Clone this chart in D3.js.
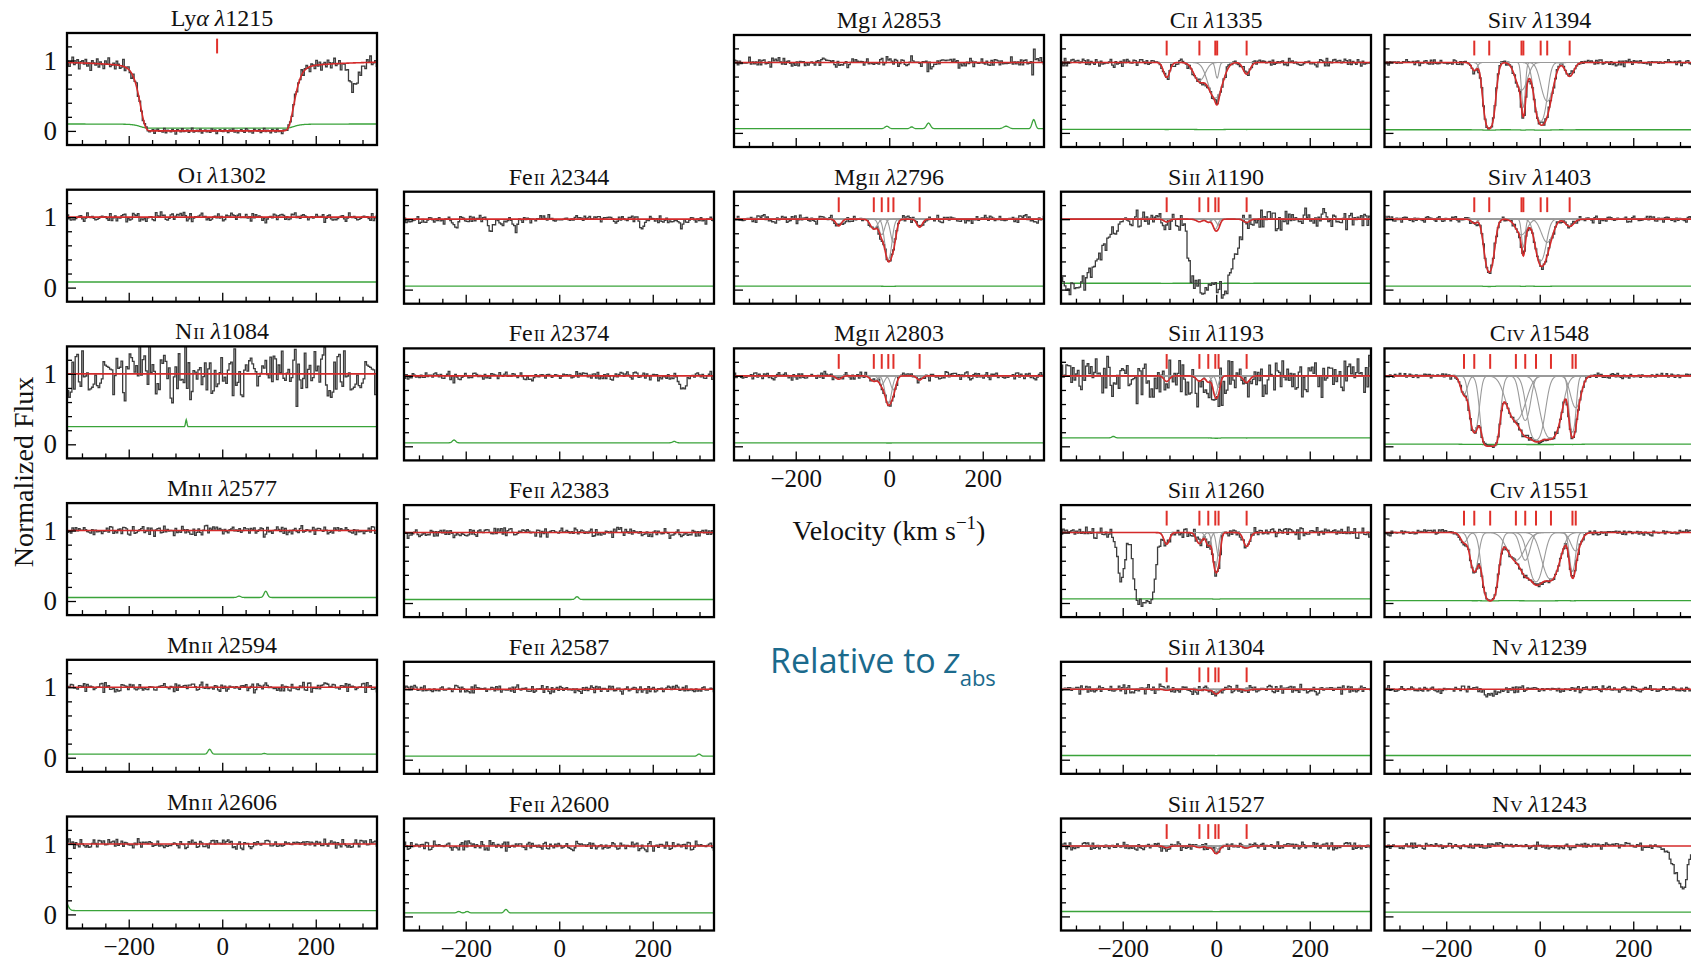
<!DOCTYPE html>
<html>
<head>
<meta charset="utf-8">
<script src="https://cdn.jsdelivr.net/npm/d3@7"></script>
<style>
  body { margin: 0; background: #fff; }
  svg text { font-family: "Liberation Serif", serif; }
</style>
</head>
<body>
<svg id="chart"></svg>
<script>
// velocity window (km/s) and spectral pixel size
var vRange = [-332, 331];
var pixKms = 3.5;
var fluxRange = [-0.2, 1.39];

// typed flux residuals (in units of sigma), reused along each spectrum
var residual = [
  0.42,-1.13,0.27,1.61,-0.58,-0.09,0.88,-1.72,0.35,0.64,
  -0.31,1.05,-0.84,0.12,-2.05,0.77,0.19,-0.46,1.34,-0.97,
  0.58,-0.22,-1.38,0.93,0.05,1.87,-0.66,-0.14,0.49,-1.21,
  1.12,0.31,-0.79,-0.35,2.12,-1.04,0.24,0.71,-0.53,-1.56,
  0.86,-0.08,1.43,-0.91,0.37,-0.27,-1.19,0.62,1.01,-0.44,
  -0.71,0.15,0.97,-1.66,0.53,1.28,-0.39,0.08,-0.85,1.74,
  -1.29,0.46,0.21,-0.62,1.16,-0.18,-2.31,0.83,0.34,-0.74,
  1.52,-0.51,0.03,0.69,-1.08,0.28,1.95,-0.93,-0.24,0.57,
  -0.43,1.22,-1.47,0.11,0.79,-0.67,0.41,-1.02,1.38,-0.12,
  0.66,-1.83,0.26,0.95,-0.33,-0.57,1.09,0.18,-1.25,0.72,
  -0.06,1.47,-0.88,0.39,-1.41,0.23,0.84,-0.29,-0.98,1.63,
  0.47,-0.69,0.13,-1.54,1.19,0.32,-0.21,0.91,-1.11,-0.37,
  1.78,-0.55,0.61,-0.15,-1.33,0.99,0.29,-0.81,1.26,-0.48,
  0.07,-1.92,0.74,0.44,-0.61,1.07,-0.26,-1.14,0.52,1.31,
  -0.76,0.16,-0.41,1.58,-1.07,0.36,0.89,-0.19,-1.49,0.63,
  0.22,-0.95,1.41,-0.34,0.78,-1.62,0.09,0.55,-0.73,1.15
];

// transitions: [key, element, ionisation stage, wavelength]
var lineList = [
  ["lya","Ly","α",1215], ["oI1302","O","I",1302], ["nII1084","N","II",1084],
  ["mnII2577","Mn","II",2577], ["mnII2594","Mn","II",2594], ["mnII2606","Mn","II",2606],
  ["feII2344","Fe","II",2344], ["feII2374","Fe","II",2374], ["feII2383","Fe","II",2383],
  ["feII2587","Fe","II",2587], ["feII2600","Fe","II",2600],
  ["mgI2853","Mg","I",2853], ["mgII2796","Mg","II",2796], ["mgII2803","Mg","II",2803],
  ["cII1335","C","II",1335], ["siII1190","Si","II",1190], ["siII1193","Si","II",1193],
  ["siII1260","Si","II",1260], ["siII1304","Si","II",1304], ["siII1527","Si","II",1527],
  ["siIV1394","Si","IV",1394], ["siIV1403","Si","IV",1403], ["cIV1548","C","IV",1548],
  ["cIV1551","C","IV",1551], ["nV1239","N","V",1239], ["nV1243","N","V",1243]
];

// fitted components: [velocity, optical depth at centre, b (km/s)]
var comps = {
  lya:      [[-11, 4740, 56]],
  mgII2796: [[-108,0.1,8],[-33,0.15,10],[-16,0.25,8],[-2,0.85,9],[9,0.4,8],[65,0.12,8]],
  mgII2803: [[-108,0.05,8],[-33,0.08,10],[-16,0.13,8],[-2,0.5,9],[9,0.22,8],[65,0.06,8]],
  cII1335:  [[-106,0.24,9],[-36,0.3,16],[-2,0.7,19],[2,0.25,5],[65,0.18,10]],
  siII1190: [[-106,0.04,8],[-36,0.037,9],[-17,0.044,7],[-2,0.154,7],[5,0.088,6],[65,0.048,9]],
  siII1193: [[-106,0.083,8],[-36,0.078,9],[-17,0.092,7],[-2,0.32,7],[5,0.18,6],[65,0.1,9]],
  siII1260: [[-106,0.18,8],[-36,0.17,9],[-17,0.2,7],[-2,0.7,7],[5,0.4,6],[65,0.22,9]],
  siII1304: [[-106,0.015,8],[-36,0.014,9],[-17,0.016,7],[-2,0.057,7],[5,0.032,6],[65,0.018,9]],
  siII1527: [[-106,0.025,8],[-36,0.023,9],[-17,0.027,7],[-2,0.096,7],[5,0.055,6],[65,0.03,9]],
  siIV1394: [[-140,0.12,8],[-108,2.8,12],[-39,0.5,16],[-35,1.0,5],[2,1.8,14],[16,0.8,16],[64,0.22,12]],
  siIV1403: [[-140,0.06,8],[-108,1.4,12],[-39,0.25,16],[-35,0.5,5],[2,0.9,14],[16,0.4,16],[64,0.11,12]],
  cIV1548:  [[-162,0.3,10],[-140,1.6,11],[-106,7,15],[-51,1.0,24],[-31,1.0,13],[-8,2.4,18],[24,2.2,22],[70,1.6,8],[77,0.6,14]],
  cIV1551:  [[-162,0.15,10],[-140,0.8,11],[-106,3.5,15],[-51,0.5,24],[-31,0.5,13],[-8,1.2,18],[24,1.1,22],[70,0.8,8],[77,0.3,14]]
};
var lyaDamping = 3000;

// unrelated absorption seen only in the data: [velocity, tau, b]
var blends = {
  lya:      [[282,0.42,14]],
  feII2344: [[-220,0.2,6],[-146,0.22,6],[-120,0.08,8],[-93,0.14,6],[176,0.12,6],[259,0.1,5]],
  feII2374: [[-62,0.05,12],[265,0.2,10]],
  siII1190: [[-340,4,70],[-30,4,22],[10,4,25]],
  siII1193: [[-150,0.1,60],[-30,0.12,40],[200,0.06,60]],
  siII1260: [[-203,1.1,9],[-153,8,16]],
  nV1239:   [[-105,0.08,15]],
  nV1243:   [[300,0.6,20],[307,0.4,8]]
};

// error spectrum level, and its floor where the flux goes to zero
var errBase = {
  lya:0.1, oI1302:0.08, nII1084:0.25, mnII2577:0.05, mnII2594:0.05, mnII2606:0.055,
  feII2344:0.05, feII2374:0.05, feII2383:0.05, feII2587:0.05, feII2600:0.05,
  mgI2853:0.06, mgII2796:0.05, mgII2803:0.05, cII1335:0.05,
  siII1190:0.09, siII1193:0.12, siII1260:0.06, siII1304:0.06, siII1527:0.07,
  siIV1394:0.045, siIV1403:0.05, cIV1548:0.03, cIV1551:0.035, nV1239:0.06, nV1243:0.06
};
var errFloor = { lya: 0.4 };
// sky residual bumps in the error spectrum: [velocity, height, width]
var errBumps = {
  nII1084:  [[-77,0.1,2]],
  mnII2577: [[36,0.02,5],[93,0.09,5]],
  mnII2594: [[-27,0.07,5],[90,0.01,5]],
  mnII2606: [[-336,0.13,8]],
  feII2374: [[-225,0.04,5],[246,0.02,5]],
  feII2383: [[38,0.04,5]],
  feII2587: [[299,0.03,5]],
  feII2600: [[-215,0.02,5],[-197,0.02,5],[-114,0.05,5]],
  mgI2853:  [[-5,0.035,6],[48,0.025,5],[84,0.08,6],[250,0.035,8],[309,0.13,5]],
  siII1193: [[-220,0.02,5]]
};
// scatter of the data around the model
var noiseRms = {
  lya:0.05, oI1302:0.035, nII1084:0.2, mnII2577:0.035, mnII2594:0.035, mnII2606:0.035,
  feII2344:0.03, feII2374:0.03, feII2383:0.035, feII2587:0.03, feII2600:0.035,
  mgI2853:0.035, mgII2796:0.03, mgII2803:0.03, cII1335:0.03,
  siII1190:0.08, siII1193:0.15, siII1260:0.04, siII1304:0.035, siII1527:0.03,
  siIV1394:0.025, siIV1403:0.025, cIV1548:0.02, cIV1551:0.02, nV1239:0.025, nV1243:0.025
};

// where each transition sits in the grid: [key, column, row]
var grid = [
  ["lya",0,0],["oI1302",0,1],["nII1084",0,2],["mnII2577",0,3],["mnII2594",0,4],["mnII2606",0,5],
  ["feII2344",1,1],["feII2374",1,2],["feII2383",1,3],["feII2587",1,4],["feII2600",1,5],
  ["mgI2853",2,0],["mgII2796",2,1],["mgII2803",2,2],
  ["cII1335",3,0],["siII1190",3,1],["siII1193",3,2],["siII1260",3,3],["siII1304",3,4],["siII1527",3,5],
  ["siIV1394",4,0],["siIV1403",4,1],["cIV1548",4,2],["cIV1551",4,3],["nV1239",4,4],["nV1243",4,5]
];
var strides = [1,3,7,9,11,13,17,19,21,23,27,29,31,33,37,39,41,43,47,49,51,53,57,59,61,63];

var svgWidth = 1691, svgHeight = 963;
var colLeft = [67, 404, 734, 1061, 1384.5];
var panelW = 310, panelH = 112, rowStep = 156.7;

var svg = d3.select("#chart").attr("width", svgWidth).attr("height", svgHeight);

var x = d3.scaleLinear().domain(vRange).range([0, panelW]);
var y = d3.scaleLinear().domain(fluxRange).range([panelH, 0]);

function tauAt(v, list) {
  var t = 0;
  (list || []).forEach(function(c) {
    var d = (v - c[0]) / c[2];
    t += c[1] * Math.exp(-d * d);
  });
  return t;
}
function modelAt(key, v) {
  var t = tauAt(v, comps[key]);
  if (key == "lya") {
    var d = v - comps.lya[0][0];
    t += lyaDamping / (d * d + 100);
  }
  return Math.exp(-t);
}
function errAt(key, v) {
  var fl = errFloor[key] != null ? errFloor[key] : 0.85;
  var e = errBase[key] * (fl + (1 - fl) * modelAt(key, v));
  (errBumps[key] || []).forEach(function(b) {
    var d = (v - b[0]) / b[2];
    e += b[1] * Math.exp(-d * d);
  });
  return e;
}

var fine = d3.range(vRange[0], vRange[1] + 0.5, 1);
var nPix = Math.ceil((vRange[1] - vRange[0]) / pixKms);
var pixV = d3.range(nPix).map(function(k) { return vRange[0] + pixKms * (k + 0.5); });

var smooth = d3.line().x(function(d) { return x(d[0]); }).y(function(d) { return y(d[1]); });
var steps = d3.line().x(function(d) { return x(d[0]); }).y(function(d) { return y(d[1]); }).curve(d3.curveStep);

var bottomRow = [5, 5, 2, 5, 5];

grid.forEach(function(cell, i) {
  var key = cell[0], col = cell[1], row = cell[2];
  var info = lineList.find(function(l) { return l[0] == key; });
  var left = colLeft[col];
  var top = (col == 0 ? 33 : 35) + rowStep * row;

  var g = svg.append("g").attr("transform", "translate(" + left + "," + top + ")");
  g.append("clipPath").attr("id", "clip" + i)
    .append("rect").attr("width", panelW).attr("height", panelH);
  var plot = g.append("g").attr("clip-path", "url(#clip" + i + ")");

  // error spectrum
  plot.append("path")
    .attr("d", smooth(fine.map(function(v) { return [v, errAt(key, v)]; })))
    .attr("fill", "none").attr("stroke", "#3aa33a").attr("stroke-width", 1.3);

  // data
  var off = (i * 23) % residual.length, st = strides[i];
  var dataPts = pixV.map(function(v, k) {
    var f = modelAt(key, v) * Math.exp(-tauAt(v, blends[key]));
    var n = residual[(k * st + off) % residual.length];
    return [v, f + noiseRms[key] * (errAt(key, v) / errBase[key]) * n];
  });
  plot.append("path")
    .attr("d", steps(dataPts))
    .attr("fill", "none").attr("stroke", "#3c3c3c").attr("stroke-width", 1.3);

  // individual components
  var cl = comps[key] || [];
  if (cl.length > 1) {
    cl.forEach(function(c) {
      plot.append("path")
        .attr("d", smooth(fine.map(function(v) { return [v, Math.exp(-tauAt(v, [c]))]; })))
        .attr("fill", "none").attr("stroke", "#9a9a9a").attr("stroke-width", 1.1);
    });
  }

  // full model
  plot.append("path")
    .attr("d", smooth(fine.map(function(v) { return [v, modelAt(key, v)]; })))
    .attr("fill", "none").attr("stroke", "#d42a2a").attr("stroke-width", 1.6);

  // component markers
  g.selectAll(".cmark").data(cl).enter().append("line")
    .attr("x1", function(c) { return x(c[0]); }).attr("x2", function(c) { return x(c[0]); })
    .attr("y1", y(1.1)).attr("y2", y(1.31))
    .attr("stroke", "#e0302a").attr("stroke-width", 2);

  // ticks, inward
  function ticks(axis, tr) {
    var a = g.append("g").attr("transform", tr).call(axis);
    a.select(".domain").remove();
    a.selectAll("line").attr("stroke", "#000").attr("stroke-width", 1.3);
    return a;
  }
  var bt = "translate(0," + panelH + ")";
  ticks(d3.axisBottom(x).tickValues([-300,-250,-150,-100,-50,50,100,150,250,300]).tickSize(-5).tickFormat(""), bt);
  ticks(d3.axisBottom(x).tickValues([-200,0,200]).tickSize(-9).tickFormat(""), bt);
  ticks(d3.axisLeft(y).tickValues([0.2,0.4,0.6,0.8,1.2]).tickSize(-5).tickFormat(""), "translate(0,0)");
  ticks(d3.axisLeft(y).tickValues([0,1]).tickSize(-9).tickFormat(""), "translate(0,0)");

  // frame
  g.append("rect").attr("width", panelW).attr("height", panelH)
    .attr("fill", "none").attr("stroke", "#000").attr("stroke-width", 2.3);

  // title
  var t = g.append("text").attr("x", panelW / 2).attr("y", -7)
    .attr("text-anchor", "middle").attr("font-size", 24).attr("fill", "#111");
  t.append("tspan").text(info[1]);
  if (key == "lya") {
    t.append("tspan").attr("font-style", "italic").text(info[2]);
  } else {
    t.append("tspan").attr("dx", 1).attr("font-size", 17).text(info[2]);
  }
  t.append("tspan").text(" ");
  t.append("tspan").attr("font-style", "italic").text("λ");
  t.append("tspan").text(info[3]);

  // tick labels
  if (row == bottomRow[col]) {
    var lab = g.append("g").attr("transform", bt)
      .call(d3.axisBottom(x).tickValues([-200,0,200]).tickSize(0).tickPadding(9));
    lab.select(".domain").remove();
    lab.selectAll("text").attr("font-family", "Liberation Serif, serif").attr("font-size", 25).attr("fill", "#111");
  }
  if (col == 0) {
    var yl = g.append("g")
      .call(d3.axisLeft(y).tickValues([0,1]).tickFormat(d3.format("d")).tickSize(0).tickPadding(10));
    yl.select(".domain").remove();
    yl.selectAll("text").attr("font-family", "Liberation Serif, serif").attr("font-size", 27).attr("fill", "#111");
  }
});

// axis titles
svg.append("text")
  .attr("transform", "translate(33,472) rotate(-90)")
  .attr("text-anchor", "middle").attr("font-size", 28).attr("fill", "#111")
  .text("Normalized Flux");

var vt = svg.append("text").attr("x", 889).attr("y", 540)
  .attr("text-anchor", "middle").attr("font-size", 28).attr("fill", "#111");
vt.append("tspan").text("Velocity (km s");
vt.append("tspan").attr("font-size", 19).attr("dy", -11).text("−1");
vt.append("tspan").attr("dy", 11).text(")");

var rel = svg.append("text").attr("x", 770).attr("y", 673)
  .attr("fill", "#1b6a8c").attr("font-size", 34)
  .style("font-family", "'Open Sans', sans-serif");
rel.append("tspan").text("Relative to ");
rel.append("tspan").attr("font-style", "italic").text("z");
rel.append("tspan").attr("font-size", 22).attr("dy", 13).text("abs");
</script>
</body>
</html>
